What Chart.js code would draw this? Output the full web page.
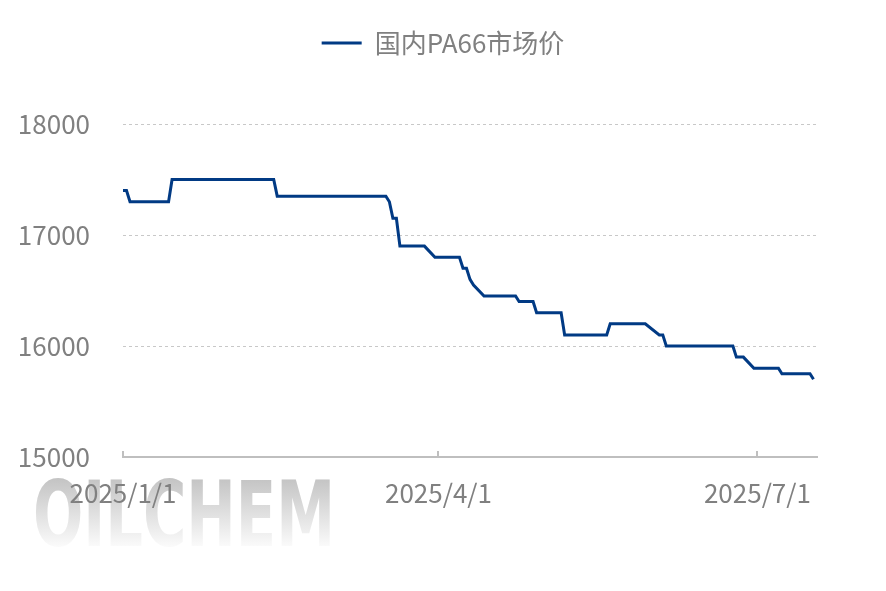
<!DOCTYPE html>
<html>
<head>
<meta charset="utf-8">
<script src="https://cdn.jsdelivr.net/npm/chart.js@4/dist/chart.umd.min.js"></script>
<style>
  html, body { margin: 0; padding: 0; background: #fff; }
  #wrap { width: 886px; height: 591px; }
</style>
</head>
<body>
<div id="wrap"><canvas id="priceChart" width="886" height="591"></canvas></div>
<script>
// corner points of the step line (value holds between points)
const dates = [
  "2025-01-01", "2025-01-02", "2025-01-03", "2025-01-14", "2025-01-15",
  "2025-02-13", "2025-02-14", "2025-03-17", "2025-03-18", "2025-03-19",
  "2025-03-20", "2025-03-21", "2025-03-28", "2025-03-31", "2025-04-07",
  "2025-04-08", "2025-04-09", "2025-04-10", "2025-04-11", "2025-04-14",
  "2025-04-23", "2025-04-24", "2025-04-28", "2025-04-29", "2025-05-06",
  "2025-05-07", "2025-05-19", "2025-05-20", "2025-05-30", "2025-06-03",
  "2025-06-04", "2025-06-05", "2025-06-24", "2025-06-25", "2025-06-27",
  "2025-06-30", "2025-07-07", "2025-07-08", "2025-07-16", "2025-07-17"
];
const prices = [
  17400, 17400, 17300, 17300, 17500,
  17500, 17350, 17350, 17300, 17150,
  17150, 16900, 16900, 16800, 16800,
  16700, 16700, 16600, 16550, 16450,
  16450, 16400, 16400, 16300, 16300,
  16100, 16100, 16200, 16200, 16100,
  16100, 16000, 16000, 15900, 15900,
  15800, 15800, 15750, 15750, 15700
];
const tickDates = ["2025-01-01", "2025-04-01", "2025-07-01"];
const tickLabels = ["2025/1/1", "2025/4/1", "2025/7/1"];
const axisEndDate = "2025-07-18";
const seriesName = "国内PA66市场价";

const dayOf = (s) => (Date.parse(s) - Date.parse(dates[0])) / 86400000;
const points = dates.map((d, i) => ({ x: dayOf(d), y: prices[i] }));
const tickDays = tickDates.map(dayOf);

const FONT = '"Noto Sans CJK SC", "Noto Sans", sans-serif';
const GREY = "#808080";
const BLUE = "#013a84";

// watermark behind the plot
const watermark = {
  id: "watermark",
  beforeDraw(chart) {
    const ctx = chart.ctx;
    ctx.save();
    ctx.font = 'bold 90px "DejaVu Sans Condensed", "DejaVu Sans", sans-serif';
    ctx.textBaseline = "alphabetic";
    const w = ctx.measureText("OILCHEM").width;
    ctx.translate(33, 546);
    ctx.scale(302 / w, 66 / 65);
    const g = ctx.createLinearGradient(0, -66, 0, 0);
    g.addColorStop(0, "#c4c4c4");
    g.addColorStop(1, "#fafafa");
    ctx.fillStyle = g;
    ctx.fillText("OILCHEM", 0, 0);
    ctx.restore();
  }
};

// short tick marks pointing up from the x axis
const innerTicks = {
  id: "innerTicks",
  afterDraw(chart) {
    const ctx = chart.ctx;
    const xs = chart.scales.x;
    const bottom = chart.chartArea.bottom;
    ctx.save();
    ctx.strokeStyle = "#bfbfbf";
    ctx.lineWidth = 2;
    tickDays.forEach((d) => {
      const px = Math.round(xs.getPixelForValue(d));
      ctx.beginPath();
      ctx.moveTo(px, bottom - 6);
      ctx.lineTo(px, bottom);
      ctx.stroke();
    });
    ctx.restore();
  }
};

// extra room under the legend
const legendGap = {
  id: "legendGap",
  afterInit(chart) {
    const origFit = chart.legend.fit;
    chart.legend.fit = function () {
      origFit.bind(chart.legend)();
      this.height += 58;
    };
  }
};

const ctx = document.getElementById("priceChart").getContext("2d");
const priceChart = new Chart(ctx, {
  type: "line",
  data: {
    datasets: [
      {
        label: seriesName,
        data: points,
        borderColor: BLUE,
        backgroundColor: BLUE,
        borderWidth: 3,
        pointRadius: 0,
        tension: 0,
      },
    ],
  },
  options: {
    responsive: false,
    animation: false,
    layout: { padding: { top: 20, right: 0, bottom: 0, left: 0 } },
    plugins: {
      legend: {
        position: "top",
        labels: {
          font: { family: FONT, size: 26 },
          color: GREY,
          boxWidth: 40,
          boxHeight: 0,
          padding: 10,
        },
      },
      tooltip: { enabled: false },
    },
    scales: {
      x: {
        type: "linear",
        min: 0,
        max: dayOf(axisEndDate),
        afterBuildTicks: (scale) => {
          scale.ticks = tickDays.map((v) => ({ value: v }));
        },
        afterFit: (scale) => { scale.height = 134; },
        ticks: {
          autoSkip: false,
          maxRotation: 0,
          padding: 21,
          color: GREY,
          font: { family: FONT, size: 26 },
          callback: (v) => tickLabels[tickDays.indexOf(v)],
        },
        grid: { display: false, drawTicks: false },
        border: { display: true, color: "#bfbfbf", width: 2 },
      },
      y: {
        min: 15000,
        max: 18000,
        afterFit: (scale) => { scale.width = 123; },
        ticks: {
          stepSize: 1000,
          padding: 33,
          color: GREY,
          font: { family: FONT, size: 26 },
          callback: (v) => String(v),
        },
        grid: {
          color: "#c8c8c8",
          lineWidth: 1,
          drawTicks: false,
        },
        border: { display: false, dash: [3, 3] },
      },
      // empty right axis that only reserves the right margin
      yRight: {
        position: "right",
        display: true,
        afterFit: (scale) => { scale.width = 69; },
        ticks: { display: false },
        grid: { display: false, drawTicks: false },
        border: { display: false },
      },
    },
  },
  plugins: [watermark, innerTicks, legendGap],
});
</script>
</body>
</html>
